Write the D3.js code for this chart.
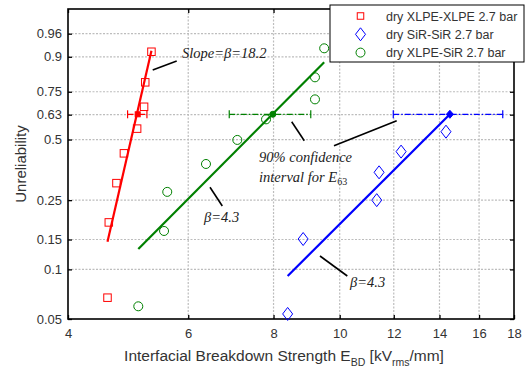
<!DOCTYPE html>
<html>
<head>
<meta charset="utf-8">
<script src="https://cdn.jsdelivr.net/npm/d3@7"></script>
<style>
  body { margin: 0; background: #fff; }
  svg { display: block; }
</style>
</head>
<body>
<div id="app"></div>
<script>
// Weibull probability plot of interfacial breakdown strength.

var width = 529, height = 370;
var x0 = 68, x1 = 514, y0 = 9, y1 = 319;	// Plot frame in pixels.

// Tick values
var xTicks = [4, 6, 8, 10, 12, 14, 16, 18];
var yTicks = [0.05, 0.1, 0.15, 0.25, 0.5, 0.63, 0.75, 0.9, 0.96];

// Measured points [E, F]
var xlpeXlpe = [[5.30, 0.916], [5.19, 0.796], [5.17, 0.672], [5.05, 0.556],
	[4.83, 0.433], [4.71, 0.308], [4.59, 0.188], [4.57, 0.0675]];
var sirSir = [[14.31, 0.540], [12.30, 0.441], [11.42, 0.350], [11.33, 0.250],
	[8.84, 0.151], [8.39, 0.0537]];
var xlpeSir = [[9.49, 0.926], [9.20, 0.819], [9.20, 0.711], [7.80, 0.605],
	[7.08, 0.498], [6.37, 0.385], [5.59, 0.277], [5.53, 0.168], [5.07, 0.0598]];

// Fitted Weibull lines, end points [E, F]
var fitXlpeXlpe = [[4.57, 0.1456], [5.30, 0.919]];
var fitSirSir = [[8.39, 0.0913], [14.50, 0.632]];
var fitXlpeSir = [[5.07, 0.132], [9.49, 0.881]];

// E63 with 90% confidence interval [low, E63, high]
var ciXlpeXlpe = [4.89, 5.06, 5.22];
var ciSirSir = [11.98, 14.50, 17.33];
var ciXlpeSir = [6.89, 7.98, 9.07];

var legendNames = ["dry XLPE-XLPE 2.7 bar", "dry SiR-SiR 2.7 bar", "dry XLPE-SiR 2.7 bar"];

var red = "#ff0000", blue = "#0000ff", green = "#008000";
var textColor = "#333";

function weib (F) { return Math.log(-Math.log(1 - F)); }

var x = d3.scaleLog().domain([4, 18]).range([x0, x1]);
var wy = d3.scaleLinear().domain([weib(0.05), weib(0.99)]).range([y1, y0]);
function y (F) { return wy(weib(F)); }

var vis = d3.select("#app").append("svg")
	.attr("width", width).attr("height", height)
	.style("font-family", "'Liberation Sans', Arial, sans-serif");

// Grid
var grid = vis.append("g")
	.attr("stroke", "#bdbdbd").attr("stroke-width", 1.2).attr("stroke-dasharray", "2,1.5");
grid.selectAll("line.gx").data(xTicks.slice(1, -1)).join("line")
	.attr("x1", d => x(d)).attr("x2", d => x(d)).attr("y1", y0).attr("y2", y1);
grid.selectAll("line.gy").data(yTicks.slice(1)).join("line")
	.attr("y1", d => y(d)).attr("y2", d => y(d)).attr("x1", x0).attr("x2", x1);

// Axes (ticks inward on all sides)
var wTicks = yTicks.map(weib);
function wLabel (w) { return yTicks[wTicks.indexOf(w)]; }

var gx = vis.append("g").attr("transform", "translate(0," + y1 + ")")
	.call(d3.axisBottom(x).tickValues(xTicks).tickFormat(d3.format("d"))
		.tickSizeInner(-4).tickSizeOuter(0).tickPadding(10));
var gy = vis.append("g").attr("transform", "translate(" + x0 + ",0)")
	.call(d3.axisLeft(wy).tickValues(wTicks).tickFormat(w => String(wLabel(w)))
		.tickSizeInner(-4).tickSizeOuter(0).tickPadding(6));
var gt = vis.append("g").attr("transform", "translate(0," + y0 + ")")
	.call(d3.axisTop(x).tickValues(xTicks).tickFormat("").tickSizeInner(-4).tickSizeOuter(0));
var gr = vis.append("g").attr("transform", "translate(" + x1 + ",0)")
	.call(d3.axisRight(wy).tickValues(wTicks).tickFormat("").tickSizeInner(-4).tickSizeOuter(0));

[gx, gy, gt, gr].forEach(function (g) {
	g.select(".domain").remove();
	g.selectAll(".tick line").attr("stroke", "#000").attr("stroke-width", 1.3);
	g.selectAll("text").attr("fill", textColor).style("font-size", "13px")
		.style("font-family", "'Liberation Sans', Arial, sans-serif");
});

vis.append("rect").attr("x", x0).attr("y", y0).attr("width", x1 - x0).attr("height", y1 - y0)
	.attr("fill", "none").attr("stroke", "#000").attr("stroke-width", 1.6);

// Axis titles
var xt = vis.append("text").attr("x", 284).attr("y", 361).attr("text-anchor", "middle")
	.attr("fill", textColor).style("font-size", "15.5px");
xt.append("tspan").text("Interfacial Breakdown Strength E");
xt.append("tspan").attr("dy", 5).style("font-size", "10.5px").text("BD");
xt.append("tspan").attr("dy", -5).text(" [kV");
xt.append("tspan").attr("dy", 5).style("font-size", "10.5px").text("rms");
xt.append("tspan").attr("dy", -5).text("/mm]");

vis.append("text").attr("transform", "translate(26," + ((y0 + y1) / 2) + ") rotate(-90)")
	.attr("text-anchor", "middle").attr("fill", textColor).style("font-size", "15px")
	.text("Unreliability");

// Fitted lines
var line = d3.line().x(d => x(d[0])).y(d => y(d[1]));
[[fitXlpeXlpe, red], [fitXlpeSir, green], [fitSirSir, blue]].forEach(function (s) {
	vis.append("path").attr("d", line(s[0])).attr("fill", "none")
		.attr("stroke", s[1]).attr("stroke-width", 2.2);
});

// Confidence intervals at F = 0.632
var f63 = 0.632;
[[ciXlpeXlpe, red], [ciXlpeSir, green], [ciSirSir, blue]].forEach(function (s) {
	var ci = s[0], c = s[1], yy = y(f63);
	var g = vis.append("g").attr("stroke", c).attr("stroke-width", 1.2);
	g.append("line").attr("x1", x(ci[0])).attr("x2", x(ci[2])).attr("y1", yy).attr("y2", yy)
		.attr("stroke-dasharray", "6,2,1.5,2");
	g.selectAll("line.cap").data([ci[0], ci[2]]).join("line")
		.attr("x1", d => x(d)).attr("x2", d => x(d)).attr("y1", yy - 4).attr("y2", yy + 4);
});

// Markers
function square (g, px, py, c, filled, s) {
	s = s || (filled ? 5 : 7.5);
	g.append("rect").attr("x", px - s / 2).attr("y", py - s / 2).attr("width", s).attr("height", s)
		.attr("fill", filled ? c : "none").attr("stroke", c).attr("stroke-width", 1);
}
function diamond (g, px, py, c, filled) {
	var w = filled ? 3.5 : 5, h = filled ? 4 : 6.5;
	g.append("path").attr("d", "M" + px + "," + (py - h) + "L" + (px + w) + "," + py + "L" + px + "," + (py + h) + "L" + (px - w) + "," + py + "Z")
		.attr("fill", filled ? c : "none").attr("stroke", c).attr("stroke-width", 1);
}
function circle (g, px, py, c, filled) {
	g.append("circle").attr("cx", px).attr("cy", py).attr("r", filled ? 3 : 4.5)
		.attr("fill", filled ? c : "none").attr("stroke", c).attr("stroke-width", 1);
}

var marks = vis.append("g");
xlpeXlpe.forEach(d => square(marks, x(d[0]), y(d[1]), red, false));
sirSir.forEach(d => diamond(marks, x(d[0]), y(d[1]), blue, false));
xlpeSir.forEach(d => circle(marks, x(d[0]), y(d[1]), green, false));
square(marks, x(ciXlpeXlpe[1]), y(f63), red, true);
circle(marks, x(ciXlpeSir[1]), y(f63), green, true);
diamond(marks, x(ciSirSir[1]), y(f63), blue, true);

// Annotations
var ann = vis.append("g").attr("fill", "#222")
	.style("font-family", "'Liberation Serif', 'Times New Roman', serif")
	.style("font-style", "italic").style("font-size", "14.5px");
var leaders = [[152.7, 70, 176.7, 61], [291.7, 121.7, 304.3, 140.7], [396.7, 120.7, 334, 145.7],
	[210, 187.3, 222.3, 206], [320, 256, 347.3, 276]];
vis.append("g").attr("stroke", "#000").attr("stroke-width", 1.6)
	.selectAll("line").data(leaders).join("line")
	.attr("x1", d => d[0]).attr("y1", d => d[1]).attr("x2", d => d[2]).attr("y2", d => d[3]);
ann.append("text").attr("x", 182).attr("y", 58).text("Slope=β=18.2");
ann.append("text").attr("x", 259).attr("y", 162).text("90% confidence");
var it = ann.append("text").attr("x", 259).attr("y", 182);
it.append("tspan").text("interval for E");
it.append("tspan").attr("dy", 3).style("font-size", "10px").style("font-style", "normal").text("63");
ann.append("text").attr("x", 204).attr("y", 222).text("β=4.3");
ann.append("text").attr("x", 350).attr("y", 287).text("β=4.3");

// Legend
var lg = vis.append("g");
lg.append("rect").attr("x", 330).attr("y", 5).attr("width", 194).attr("height", 57)
	.attr("fill", "#fff").attr("stroke", "#000").attr("stroke-width", 1);
var legendMarks = [[square, red], [diamond, blue], [circle, green]];
legendNames.forEach(function (name, i) {
	var ly = 16 + i * 18.3;
	if (i == 0) square(lg, 360.5, ly, red, false, 6.5);
	else legendMarks[i][0](lg, 360.5, ly, legendMarks[i][1], false);
	lg.append("text").attr("x", 386).attr("y", ly + 4.5).attr("fill", textColor)
		.style("font-size", "12.5px").text(name);
});
</script>
</body>
</html>
